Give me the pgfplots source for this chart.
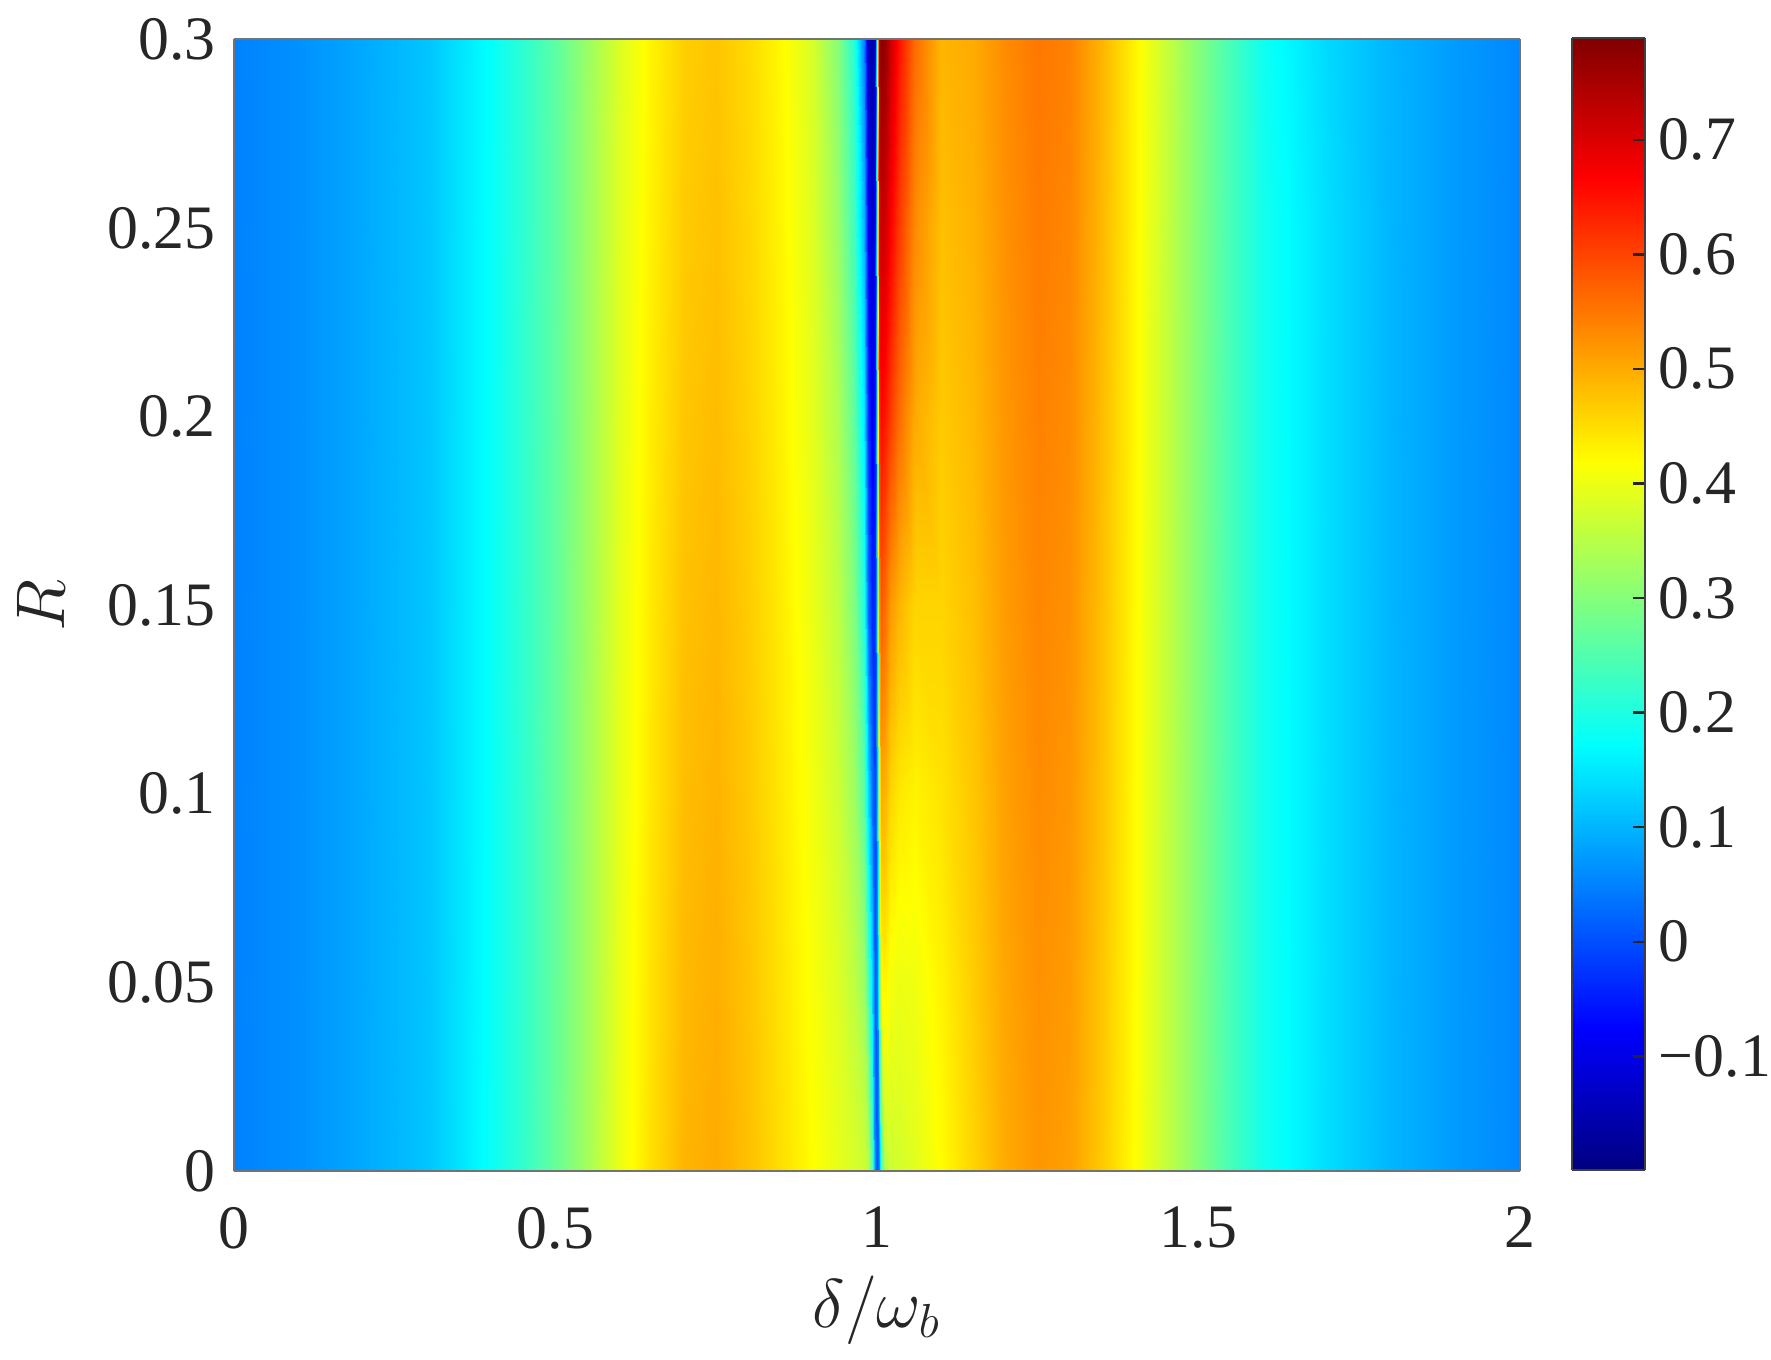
\documentclass[border=0pt]{standalone}
\usepackage{pgfplots}
\pgfplotsset{compat=1.18}
\usetikzlibrary{calc}
\usepackage{fontspec}
\setmainfont{Liberation Serif}

\begin{document}
\begin{tikzpicture}
\useasboundingbox (-58.45bp,-47.25bp) rectangle (384.3bp,292.75bp);
\begin{axis}[
  at={(0,0)}, anchor=south west,
  scale only axis,
  width=321.5bp, height=282.9bp,
  view={0}{90},
  xmin=0, xmax=2, ymin=0, ymax=0.3,
  enlargelimits=false,
  xtick={0,0.5,1,1.5,2},
  xticklabels={0,0.5,1,1.5,2},
  ytick={0,0.05,0.1,0.15,0.2,0.25,0.3},
  yticklabels={0,0.05,0.1,0.15,0.2,0.25,0.3},
  major tick length=0pt,
  tick label style={font=\fontsize{15.5}{18}\selectfont, text=black!85},
  xticklabel style={yshift=-5.5bp},
  yticklabel style={xshift=-1bp},
  axis line style={draw=black!55, line width=0.5bp},
  xlabel={$\delta/\omega_b$},
  ylabel={$R$},
  label style={font=\fontsize{17.5}{20}\selectfont, text=black!85},
  xlabel style={at={(axis description cs:0.5,-0.1228)}, anchor=center},
  ylabel style={at={(axis description cs:-0.15,0.5)}, anchor=center},
  colormap/jet,
  point meta min=-0.199, point meta max=0.789,
  colorbar sampled={surf, shader=interp, samples=99},
  colorbar style={
    % the default colorbar already adds xshift=0.3cm
    at={($(parent axis.north east)+(4.5bp,0.4bp)$)}, anchor=north west,
    scale only axis,
    width=18.25bp, height=283bp,
    ytick={-0.1,0,0.1,0.2,0.3,0.4,0.5,0.6,0.7},
    yticklabels={−0.1,0,0.1,0.2,0.3,0.4,0.5,0.6,0.7},
    yticklabel pos=right,
    ytick pos=right,
    tick align=inside,
    major tick length=3bp,
    tick style={black!85, line width=0.6bp},
    axis line style={draw=black!75, line width=0.6bp},
    tick label style={font=\fontsize{15.5}{18}\selectfont, text=black!85},
  },
]
% rows: R = 0, 0.05, ..., 0.3 ; 45 points in delta/omega_b each
\addplot3[surf, shader=interp, mesh/cols=45] coordinates {
(0,0,0.050) (0.1,0,0.065) (0.2,0,0.088) (0.3,0,0.115) (0.35,0,0.145) (0.4,0,0.180) (0.45,0,0.220) (0.5,0,0.270) (0.55,0,0.330)
(0.6,0,0.400) (0.65,0,0.450) (0.7,0,0.490) (0.75,0,0.500) (0.8,0,0.480) (0.85,0,0.450) (0.9,0,0.420)
(0.94,0,0.395) (0.965,0,0.380) (0.98,0,0.370) (0.986,0,0.350) (0.993,0,0.250) (0.997,0,0.050) (1.0,0,0.000)
(1.003,0,0.060) (1.007,0,0.250) (1.012,0,0.350) (1.02,0,0.370) (1.035,0,0.375) (1.06,0,0.390) (1.1,0,0.420)
(1.15,0,0.460) (1.2,0,0.500) (1.25,0,0.520) (1.3,0,0.510) (1.35,0,0.470) (1.4,0,0.420) (1.45,0,0.360)
(1.5,0,0.300) (1.55,0,0.240) (1.6,0,0.190) (1.65,0,0.165) (1.7,0,0.140) (1.8,0,0.100) (1.9,0,0.075) (2.0,0,0.055)

(0,0.05,0.050) (0.1,0.05,0.065) (0.2,0.05,0.088) (0.3,0.05,0.115) (0.35,0.05,0.145) (0.4,0.05,0.179) (0.45,0.05,0.219) (0.5,0.05,0.268) (0.55,0.05,0.328)
(0.6,0.05,0.398) (0.65,0.05,0.447) (0.7,0.05,0.486) (0.75,0.05,0.496) (0.8,0.05,0.476) (0.85,0.05,0.446) (0.9,0.05,0.413)
(0.94,0.05,0.385) (0.965,0.05,0.355) (0.98,0.05,0.320) (0.986,0.05,0.250) (0.993,0.05,0.140) (0.997,0.05,0.010) (1.0,0.05,0.050)
(1.003,0.05,0.250) (1.007,0.05,0.420) (1.012,0.05,0.430) (1.02,0.05,0.410) (1.035,0.05,0.400) (1.06,0.05,0.405) (1.1,0.05,0.430)
(1.15,0.05,0.467) (1.2,0.05,0.505) (1.25,0.05,0.525) (1.3,0.05,0.515) (1.35,0.05,0.473) (1.4,0.05,0.422) (1.45,0.05,0.361)
(1.5,0.05,0.300) (1.55,0.05,0.240) (1.6,0.05,0.190) (1.65,0.05,0.165) (1.7,0.05,0.140) (1.8,0.05,0.100) (1.9,0.05,0.075) (2.0,0.05,0.055)

(0,0.1,0.050) (0.1,0.1,0.065) (0.2,0.1,0.088) (0.3,0.1,0.115) (0.35,0.1,0.145) (0.4,0.1,0.178) (0.45,0.1,0.218) (0.5,0.1,0.267) (0.55,0.1,0.327)
(0.6,0.1,0.395) (0.65,0.1,0.443) (0.7,0.1,0.482) (0.75,0.1,0.492) (0.8,0.1,0.472) (0.85,0.1,0.442) (0.9,0.1,0.407)
(0.94,0.1,0.370) (0.965,0.1,0.325) (0.98,0.1,0.260) (0.986,0.1,0.140) (0.993,0.1,0.040) (0.997,0.1,-0.010) (1.0,0.1,0.100)
(1.003,0.1,0.400) (1.007,0.1,0.500) (1.012,0.1,0.490) (1.02,0.1,0.460) (1.035,0.1,0.440) (1.06,0.1,0.430) (1.1,0.1,0.445)
(1.15,0.1,0.473) (1.2,0.1,0.510) (1.25,0.1,0.530) (1.3,0.1,0.520) (1.35,0.1,0.477) (1.4,0.1,0.423) (1.45,0.1,0.362)
(1.5,0.1,0.300) (1.55,0.1,0.240) (1.6,0.1,0.190) (1.65,0.1,0.165) (1.7,0.1,0.140) (1.8,0.1,0.100) (1.9,0.1,0.075) (2.0,0.1,0.055)

(0,0.15,0.050) (0.1,0.15,0.065) (0.2,0.15,0.088) (0.3,0.15,0.115) (0.35,0.15,0.145) (0.4,0.15,0.178) (0.45,0.15,0.218) (0.5,0.15,0.265) (0.55,0.15,0.325)
(0.6,0.15,0.393) (0.65,0.15,0.440) (0.7,0.15,0.478) (0.75,0.15,0.488) (0.8,0.15,0.468) (0.85,0.15,0.438) (0.9,0.15,0.400)
(0.94,0.15,0.355) (0.965,0.15,0.295) (0.98,0.15,0.200) (0.986,0.15,0.030) (0.993,0.15,-0.040) (0.997,0.15,-0.030) (1.0,0.15,0.150)
(1.003,0.15,0.520) (1.007,0.15,0.580) (1.012,0.15,0.560) (1.02,0.15,0.520) (1.035,0.15,0.490) (1.06,0.15,0.460) (1.1,0.15,0.460)
(1.15,0.15,0.480) (1.2,0.15,0.515) (1.25,0.15,0.535) (1.3,0.15,0.525) (1.35,0.15,0.480) (1.4,0.15,0.425) (1.45,0.15,0.363)
(1.5,0.15,0.300) (1.55,0.15,0.240) (1.6,0.15,0.190) (1.65,0.15,0.165) (1.7,0.15,0.140) (1.8,0.15,0.100) (1.9,0.15,0.075) (2.0,0.15,0.055)

(0,0.2,0.050) (0.1,0.2,0.065) (0.2,0.2,0.088) (0.3,0.2,0.115) (0.35,0.2,0.145) (0.4,0.2,0.177) (0.45,0.2,0.217) (0.5,0.2,0.263) (0.55,0.2,0.323)
(0.6,0.2,0.390) (0.65,0.2,0.437) (0.7,0.2,0.473) (0.75,0.2,0.483) (0.8,0.2,0.463) (0.85,0.2,0.433) (0.9,0.2,0.393)
(0.94,0.2,0.340) (0.965,0.2,0.265) (0.98,0.2,0.150) (0.986,0.2,-0.030) (0.993,0.2,-0.090) (0.997,0.2,-0.050) (1.0,0.2,0.200)
(1.003,0.2,0.620) (1.007,0.2,0.660) (1.012,0.2,0.645) (1.02,0.2,0.610) (1.035,0.2,0.560) (1.06,0.2,0.500) (1.1,0.2,0.470)
(1.15,0.2,0.487) (1.2,0.2,0.520) (1.25,0.2,0.540) (1.3,0.2,0.530) (1.35,0.2,0.483) (1.4,0.2,0.427) (1.45,0.2,0.363)
(1.5,0.2,0.300) (1.55,0.2,0.240) (1.6,0.2,0.190) (1.65,0.2,0.165) (1.7,0.2,0.140) (1.8,0.2,0.100) (1.9,0.2,0.075) (2.0,0.2,0.055)

(0,0.25,0.050) (0.1,0.25,0.065) (0.2,0.25,0.088) (0.3,0.25,0.115) (0.35,0.25,0.145) (0.4,0.25,0.176) (0.45,0.25,0.216) (0.5,0.25,0.262) (0.55,0.25,0.322)
(0.6,0.25,0.388) (0.65,0.25,0.433) (0.7,0.25,0.469) (0.75,0.25,0.479) (0.8,0.25,0.459) (0.85,0.25,0.429) (0.9,0.25,0.387)
(0.94,0.25,0.320) (0.965,0.25,0.235) (0.98,0.25,0.100) (0.986,0.25,-0.080) (0.993,0.25,-0.130) (0.997,0.25,-0.070) (1.0,0.25,0.250)
(1.003,0.25,0.700) (1.007,0.25,0.720) (1.012,0.25,0.710) (1.02,0.25,0.670) (1.035,0.25,0.610) (1.06,0.25,0.530) (1.1,0.25,0.480)
(1.15,0.25,0.493) (1.2,0.25,0.525) (1.25,0.25,0.545) (1.3,0.25,0.535) (1.35,0.25,0.487) (1.4,0.25,0.428) (1.45,0.25,0.364)
(1.5,0.25,0.300) (1.55,0.25,0.240) (1.6,0.25,0.190) (1.65,0.25,0.165) (1.7,0.25,0.140) (1.8,0.25,0.100) (1.9,0.25,0.075) (2.0,0.25,0.055)

(0,0.3,0.050) (0.1,0.3,0.065) (0.2,0.3,0.088) (0.3,0.3,0.115) (0.35,0.3,0.145) (0.4,0.3,0.175) (0.45,0.3,0.215) (0.5,0.3,0.260) (0.55,0.3,0.320)
(0.6,0.3,0.385) (0.65,0.3,0.430) (0.7,0.3,0.465) (0.75,0.3,0.475) (0.8,0.3,0.455) (0.85,0.3,0.425) (0.9,0.3,0.380)
(0.94,0.3,0.300) (0.965,0.3,0.210) (0.98,0.3,0.050) (0.986,0.3,-0.130) (0.993,0.3,-0.170) (0.997,0.3,-0.100) (1.0,0.3,0.300)
(1.003,0.3,0.760) (1.007,0.3,0.780) (1.012,0.3,0.770) (1.02,0.3,0.720) (1.035,0.3,0.650) (1.06,0.3,0.560) (1.1,0.3,0.490)
(1.15,0.3,0.500) (1.2,0.3,0.530) (1.25,0.3,0.550) (1.3,0.3,0.540) (1.35,0.3,0.490) (1.4,0.3,0.430) (1.45,0.3,0.365)
(1.5,0.3,0.300) (1.55,0.3,0.240) (1.6,0.3,0.185) (1.65,0.3,0.160) (1.7,0.3,0.135) (1.8,0.3,0.100) (1.9,0.3,0.075) (2.0,0.3,0.055)
};
\end{axis}
\end{tikzpicture}
\end{document}
